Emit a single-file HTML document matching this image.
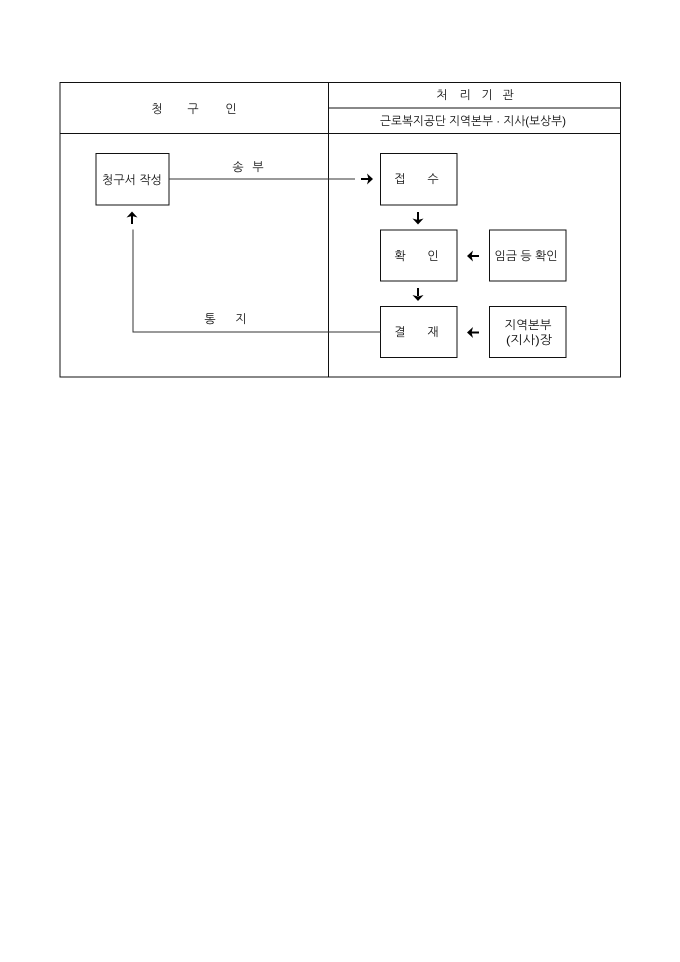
<!DOCTYPE html>
<html lang="ko">
<head>
<meta charset="utf-8">
<style>
html,body{margin:0;padding:0;background:#fff;width:680px;height:962px;overflow:hidden}
svg{display:block}
text{font-family:"Liberation Sans","NanumGothic","Noto Sans CJK KR",sans-serif;font-size:12px;fill:#111;text-anchor:middle}
.l{stroke:#111;stroke-width:1;fill:none}
.g{stroke:#333;stroke-width:1;fill:none}
.a{stroke:#000;stroke-width:2;fill:none}
.h{fill:#000;stroke:none}
</style>
</head>
<body>
<svg width="680" height="962" viewBox="0 0 680 962" xmlns="http://www.w3.org/2000/svg">
<rect class="l" x="60" y="82.5" width="560.5" height="294.5"/>
<path class="l" d="M328.5 82.5V377M328.5 108H620.5M60 133.5H620.5"/>

<text x="157" y="113">청</text>
<text x="193" y="113">구</text>
<text x="231" y="113">인</text>
<text x="442" y="99">처</text>
<text x="465" y="99">리</text>
<text x="487" y="99">기</text>
<text x="508" y="99">관</text>
<text x="473" y="125" textLength="186" lengthAdjust="spacingAndGlyphs">근로복지공단 지역본부 · 지사(보상부)</text>

<rect class="l" x="96" y="153.5" width="73" height="51.5"/>
<rect class="l" x="380.5" y="153.5" width="76.5" height="51.5"/>
<rect class="l" x="380.5" y="230" width="76.5" height="51"/>
<rect class="l" x="380.5" y="306.5" width="76.5" height="51"/>
<rect class="l" x="489.5" y="230" width="76.5" height="51"/>
<rect class="l" x="489.5" y="306.5" width="76.5" height="51"/>

<text x="132" y="184" textLength="60" lengthAdjust="spacingAndGlyphs">청구서 작성</text>
<text x="238" y="171">송</text>
<text x="258" y="171">부</text>
<text x="400" y="183">접</text>
<text x="433" y="183">수</text>
<text x="400" y="260">확</text>
<text x="433" y="260">인</text>
<text x="400" y="336">결</text>
<text x="433" y="336">재</text>
<text x="526" y="260" textLength="63" lengthAdjust="spacingAndGlyphs">임금 등 확인</text>
<text x="528" y="329" textLength="47" lengthAdjust="spacingAndGlyphs">지역본부</text>
<text x="529" y="344" textLength="46" lengthAdjust="spacingAndGlyphs">(지사)장</text>
<text x="210" y="323">통</text>
<text x="241" y="323">지</text>

<path class="g" d="M169 179H355"/>
<path class="g" d="M133 229.500V332H380.500"/>

<path class="a" d="M361 179H369"/><path class="h" d="M373 179L367 173.500L368.500 179L367 184.500Z"/>
<path class="a" d="M418 212V220"/><path class="h" d="M418 224.500L412.500 218.500L418 220L423.500 218.500Z"/>
<path class="a" d="M418 288V296"/><path class="h" d="M418 301L412.500 295L418 296.500L423.500 295Z"/>
<path class="a" d="M132 216V224"/><path class="h" d="M132 211.500L126.500 217.500L132 216L137.500 217.500Z"/>
<path class="a" d="M471 256H479"/><path class="h" d="M467 256L473 250.500L471.500 256L473 261.500Z"/>
<path class="a" d="M471 332.500H479"/><path class="h" d="M467 332.500L473 327L471.500 332.500L473 338Z"/>
</svg>
</body>
</html>
